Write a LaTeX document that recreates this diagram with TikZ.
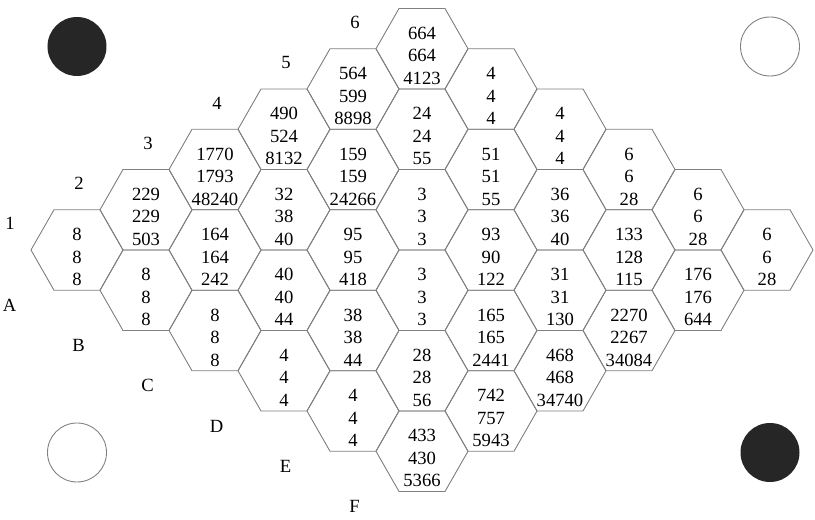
\documentclass[tikz,border=0pt]{standalone}
\usepackage{fontspec}
\setmainfont{Liberation Serif}
\tikzset{
	hexcell/.style={draw=black!50,line width=0.5pt},
	cellnum/.style={align=center,font=\fontsize{10.6}{12.8}\selectfont,inner sep=0pt,yshift=-0.14cm},
	edgelab/.style={font=\fontsize{10.6}{12}\selectfont,inner sep=0pt}
}
\begin{document}
\begin{tikzpicture}
	\useasboundingbox (-1.54,-5.4) rectangle (14.76,5.0);
	% corner stones
	\fill[black!85](0,4.07) circle(0.59cm);
	\draw[black!50,line width=0.5pt](13.86,4.07) circle(0.59cm);
	\draw[black!50,line width=0.5pt](0,-4.05) circle(0.59cm);
	\fill[black!85](13.86,-4.05) circle(0.59cm);
	% board
	\foreach \name/\c/\r/\ta/\tb/\tc in {A1/0/0/8/8/8, B1/1/0/8/8/8, C1/2/0/8/8/8, D1/3/0/4/4/4, E1/4/0/4/4/4, F1/5/0/433/430/5366,
		A2/0/1/229/229/503, B2/1/1/164/164/242, C2/2/1/40/40/44, D2/3/1/38/38/44, E2/4/1/28/28/56, F2/5/1/742/757/5943,
		A3/0/2/1770/1793/48240, B3/1/2/32/38/40, C3/2/2/95/95/418, D3/3/2/3/3/3, E3/4/2/165/165/2441, F3/5/2/468/468/34740,
		A4/0/3/490/524/8132, B4/1/3/159/159/24266, C4/2/3/3/3/3, D4/3/3/93/90/122, E4/4/3/31/31/130, F4/5/3/2270/2267/34084,
		A5/0/4/564/599/8898, B5/1/4/24/24/55, C5/2/4/51/51/55, D5/3/4/36/36/40, E5/4/4/133/128/115, F5/5/4/176/176/644,
		A6/0/5/664/664/4123, B6/1/5/4/4/4, C6/2/5/4/4/4, D6/3/5/6/6/28, E6/4/5/6/6/28, F6/5/5/6/6/28}{
		\coordinate (\name) at ({1.38*(\c+\r)},{0.805*(\r-\c)});
		\draw[hexcell](\name) ++(0.92,0) -- ++(-0.46,0.805) -- ++(-0.92,0) -- ++(-0.46,-0.805) -- ++(0.46,-0.805) -- ++(0.92,0) -- cycle;
		\node[cellnum](n\name) at (\name) {\ta\\\tb\\\tc};
	}
	% edge labels
	\foreach \r in {1,...,6}
		\node[edgelab](row\r) at ({1.38*(\r-2)+0.04},{0.805*\r-0.28}) {\r};
	\foreach \l [count=\c from 0] in {A,B,C,D,E,F}
		\node[edgelab](col\l) at ({1.38*(\c-1)+0.03},{-0.805*(\c+1)-0.3}) {\l};
\end{tikzpicture}
\end{document}
